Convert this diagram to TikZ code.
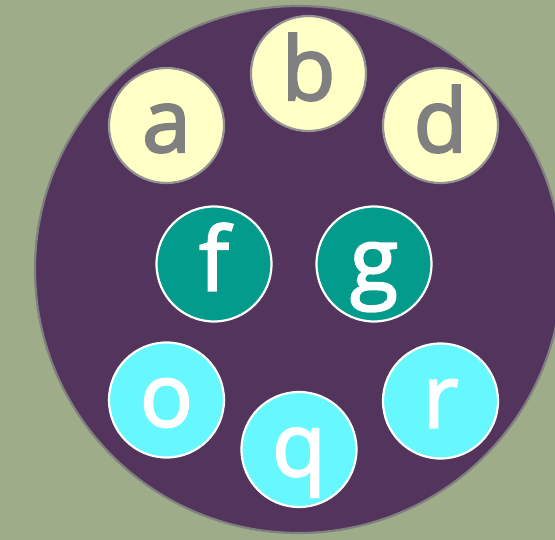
\documentclass[tikz,border=0pt]{standalone}
\usepackage{fontspec}
\setmainfont{Open Sans}[FakeBold=2.4]
\definecolor{bgcol}{HTML}{9EAC8A}
\definecolor{plum}{HTML}{52345C}
\definecolor{pale}{HTML}{FFFFC6}
\definecolor{teal}{HTML}{039B8B}
\definecolor{aqua}{HTML}{66F7FF}
\definecolor{ink}{HTML}{808080}
\begin{document}
\begin{tikzpicture}[x=1pt,y=-1pt]
\tikzstyle{every node}=[draw,shape=circle,minimum size=115pt,inner sep=0pt,line width=2.2pt,
  font=\fontsize{88}{88}\selectfont,text height=70pt,text depth=17pt];
\tikzstyle{top}=[fill=pale,draw=ink!85,text=ink];
\tikzstyle{mid}=[fill=teal,draw=white,text=white];
\tikzstyle{low}=[fill=aqua,draw=white,text=white];
\fill[bgcol] (0,0) rectangle (555,540);
\useasboundingbox (0,0) rectangle (555,540);
\filldraw[fill=plum,draw=ink,line width=2.2pt] (298.5,269.5) circle (263.5);
% upper ring
\node[top] (a) at (166.5,125.5) {a};
\node[top] (b) at (308.5,73.5) {b};
\node[top] (d) at (440.5,125.5) {d};
% middle pair
\node[mid] (f) at (214,264) {f};
\node[mid] (g) at (374,264) {g};
% lower ring
\node[low] (o) at (166.5,400) {o};
\node[low] (q) at (299,449.5) {q};
\node[low] (r) at (440.5,401) {r};
\end{tikzpicture}
\end{document}
